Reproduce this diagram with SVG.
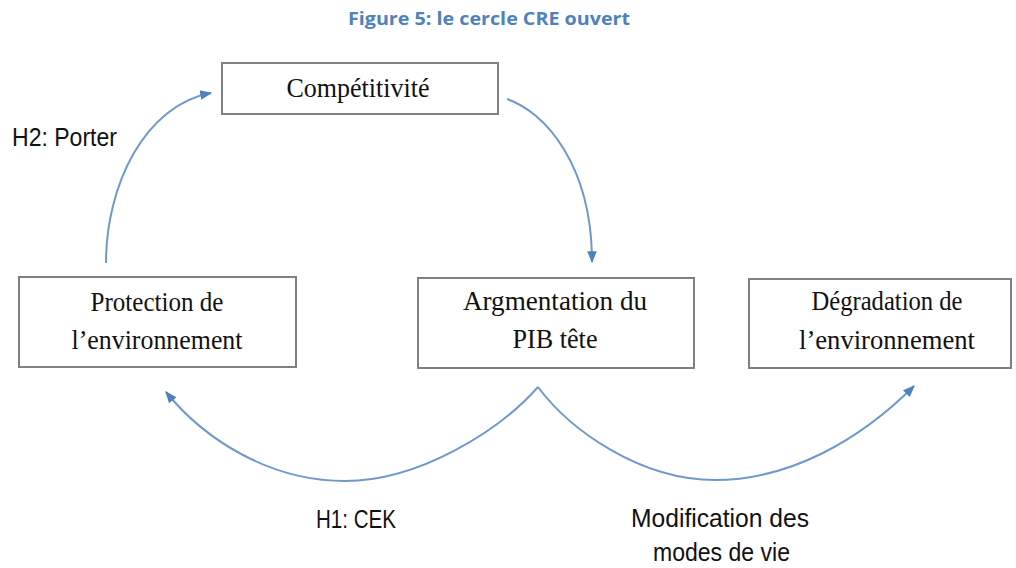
<svg xmlns="http://www.w3.org/2000/svg" width="1016" height="568" viewBox="0 0 1016 568">
<style>
.box{fill:#fff;stroke:#808080;stroke-width:2}
.nt{font-family:"Liberation Serif",serif;font-size:28px;fill:#111;text-anchor:middle}
.lb{font-family:"Liberation Sans",sans-serif;font-size:26px;fill:#111}
.title{font-family:"Open Sans","Liberation Sans",sans-serif;font-size:18px;font-weight:bold;fill:#4F81BD;text-anchor:middle}
.con{fill:none;stroke:#6F98CD;stroke-width:2;marker-end:url(#ah)}
</style>
<defs>
<marker id="ah" markerUnits="userSpaceOnUse" markerWidth="12" markerHeight="12" viewBox="0 0 10 10" refX="9" refY="5" orient="auto">
<path d="M0,1 L10,5 L0,9 Z" fill="#4F81BD"/>
</marker>
</defs>
<rect width="1016" height="568" fill="#fff"/>
<text class="title" x="489" y="25" textLength="282" lengthAdjust="spacingAndGlyphs">Figure 5: le cercle CRE ouvert</text>
<g id="connectors">
<path class="con" d="M106,263 C106,185 145,105 211,93"/>
<path class="con" d="M507,99 C545,112 592,165 592,262"/>
<path class="con" d="M538,387 C500,430 420,481 345,481 C270,481 205,440 166,392"/>
<path class="con" d="M538,387 C570,430 640,480 715,480 C790,480 860,440 914,386"/>
</g>
<g id="competitivite">
<rect class="box" x="222" y="63" width="276" height="51"/>
<text class="nt" x="358" y="97" textLength="143" lengthAdjust="spacingAndGlyphs">Compétitivité</text>
</g>
<g id="protection">
<rect class="box" x="19" y="277" width="277" height="90"/>
<text class="nt" x="157" y="311" textLength="133" lengthAdjust="spacingAndGlyphs">Protection de</text>
<text class="nt" x="157" y="349" textLength="171" lengthAdjust="spacingAndGlyphs">l’environnement</text>
</g>
<g id="augmentation">
<rect class="box" x="418" y="278" width="276" height="90"/>
<text class="nt" x="555" y="310" textLength="184" lengthAdjust="spacingAndGlyphs">Argmentation du</text>
<text class="nt" x="555" y="348" textLength="85" lengthAdjust="spacingAndGlyphs">PIB tête</text>
</g>
<g id="degradation">
<rect class="box" x="749" y="279" width="262" height="89"/>
<text class="nt" x="887" y="310" textLength="151" lengthAdjust="spacingAndGlyphs">Dégradation de</text>
<text class="nt" x="887" y="349" textLength="176" lengthAdjust="spacingAndGlyphs">l’environnement</text>
</g>
<g id="labels">
<text class="lb" x="12" y="146" textLength="105" lengthAdjust="spacingAndGlyphs">H2: Porter</text>
<text class="lb" x="316" y="528" textLength="80" lengthAdjust="spacingAndGlyphs">H1: CEK</text>
<text class="lb" x="631" y="527" textLength="178" lengthAdjust="spacingAndGlyphs">Modification des</text>
<text class="lb" x="653" y="561" font-size="25" textLength="137" lengthAdjust="spacingAndGlyphs">modes de vie</text>
</g>
</svg>
